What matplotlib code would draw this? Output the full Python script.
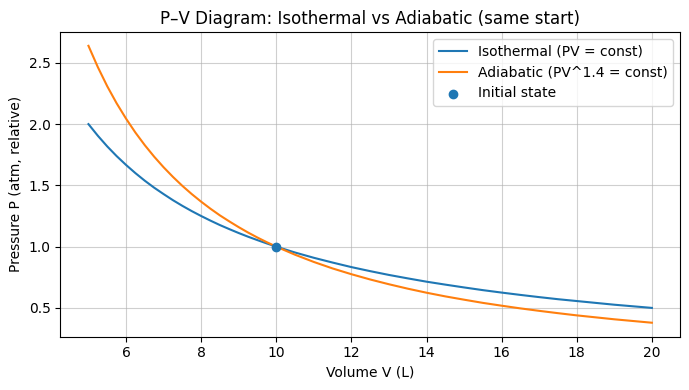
import matplotlib
matplotlib.use("Agg")
import matplotlib.pyplot as plt

volume = [5.0, 5.25, 5.5, 5.75, 6.0, 6.25, 6.5, 6.75, 7.0, 7.25, 7.5, 7.75, 8.0, 8.25, 8.5,
          8.75, 9.0, 9.25, 9.5, 9.75, 10.0, 10.5, 11.0, 11.5, 12.0,
          12.5, 13.0, 13.5, 14.0, 14.5, 15.0, 15.5, 16.0, 16.5, 17.0, 17.5, 18.0, 18.5,
          19.0, 19.5, 20.0]
p_isothermal = [2.000, 1.905, 1.818, 1.739, 1.667, 1.600, 1.538, 1.481, 1.429, 1.379, 1.333,
                1.290, 1.250, 1.212, 1.176, 1.143, 1.111, 1.081, 1.053, 1.026, 1.000,
                0.952, 0.909, 0.870, 0.833, 0.800, 0.769, 0.741, 0.714, 0.690, 0.667, 0.645,
                0.625, 0.606, 0.588, 0.571, 0.556, 0.541, 0.526, 0.513, 0.500]
p_adiabatic = [2.639, 2.465, 2.309, 2.170, 2.045, 1.931, 1.828, 1.734, 1.648, 1.569, 1.496,
               1.429, 1.367, 1.309, 1.255, 1.206, 1.159, 1.115, 1.074, 1.036, 1.000,
               0.934, 0.875, 0.822, 0.775, 0.732, 0.693, 0.657, 0.624, 0.594, 0.567, 0.541,
               0.518, 0.496, 0.476, 0.457, 0.439, 0.423, 0.407, 0.393, 0.379]
initial_v = [10.0]
initial_p = [1.0]

fig, ax = plt.subplots(figsize=(6.89, 3.9), dpi=100)
ax.plot(volume, p_isothermal, label="Isothermal (PV = const)")
ax.plot(volume, p_adiabatic, label="Adiabatic (PV^1.4 = const)")
ax.scatter(initial_v, initial_p, zorder=3, label="Initial state")
ax.set_xlabel("Volume V (L)")
ax.set_ylabel("Pressure P (atm, relative)")
ax.set_title("P–V Diagram: Isothermal vs Adiabatic (same start)")
ax.grid(True, alpha=0.6)
ax.legend(loc="upper right")
fig.subplots_adjust(left=0.0875, right=0.987, top=0.918, bottom=0.137)
fig.savefig("out.png", dpi=100)
